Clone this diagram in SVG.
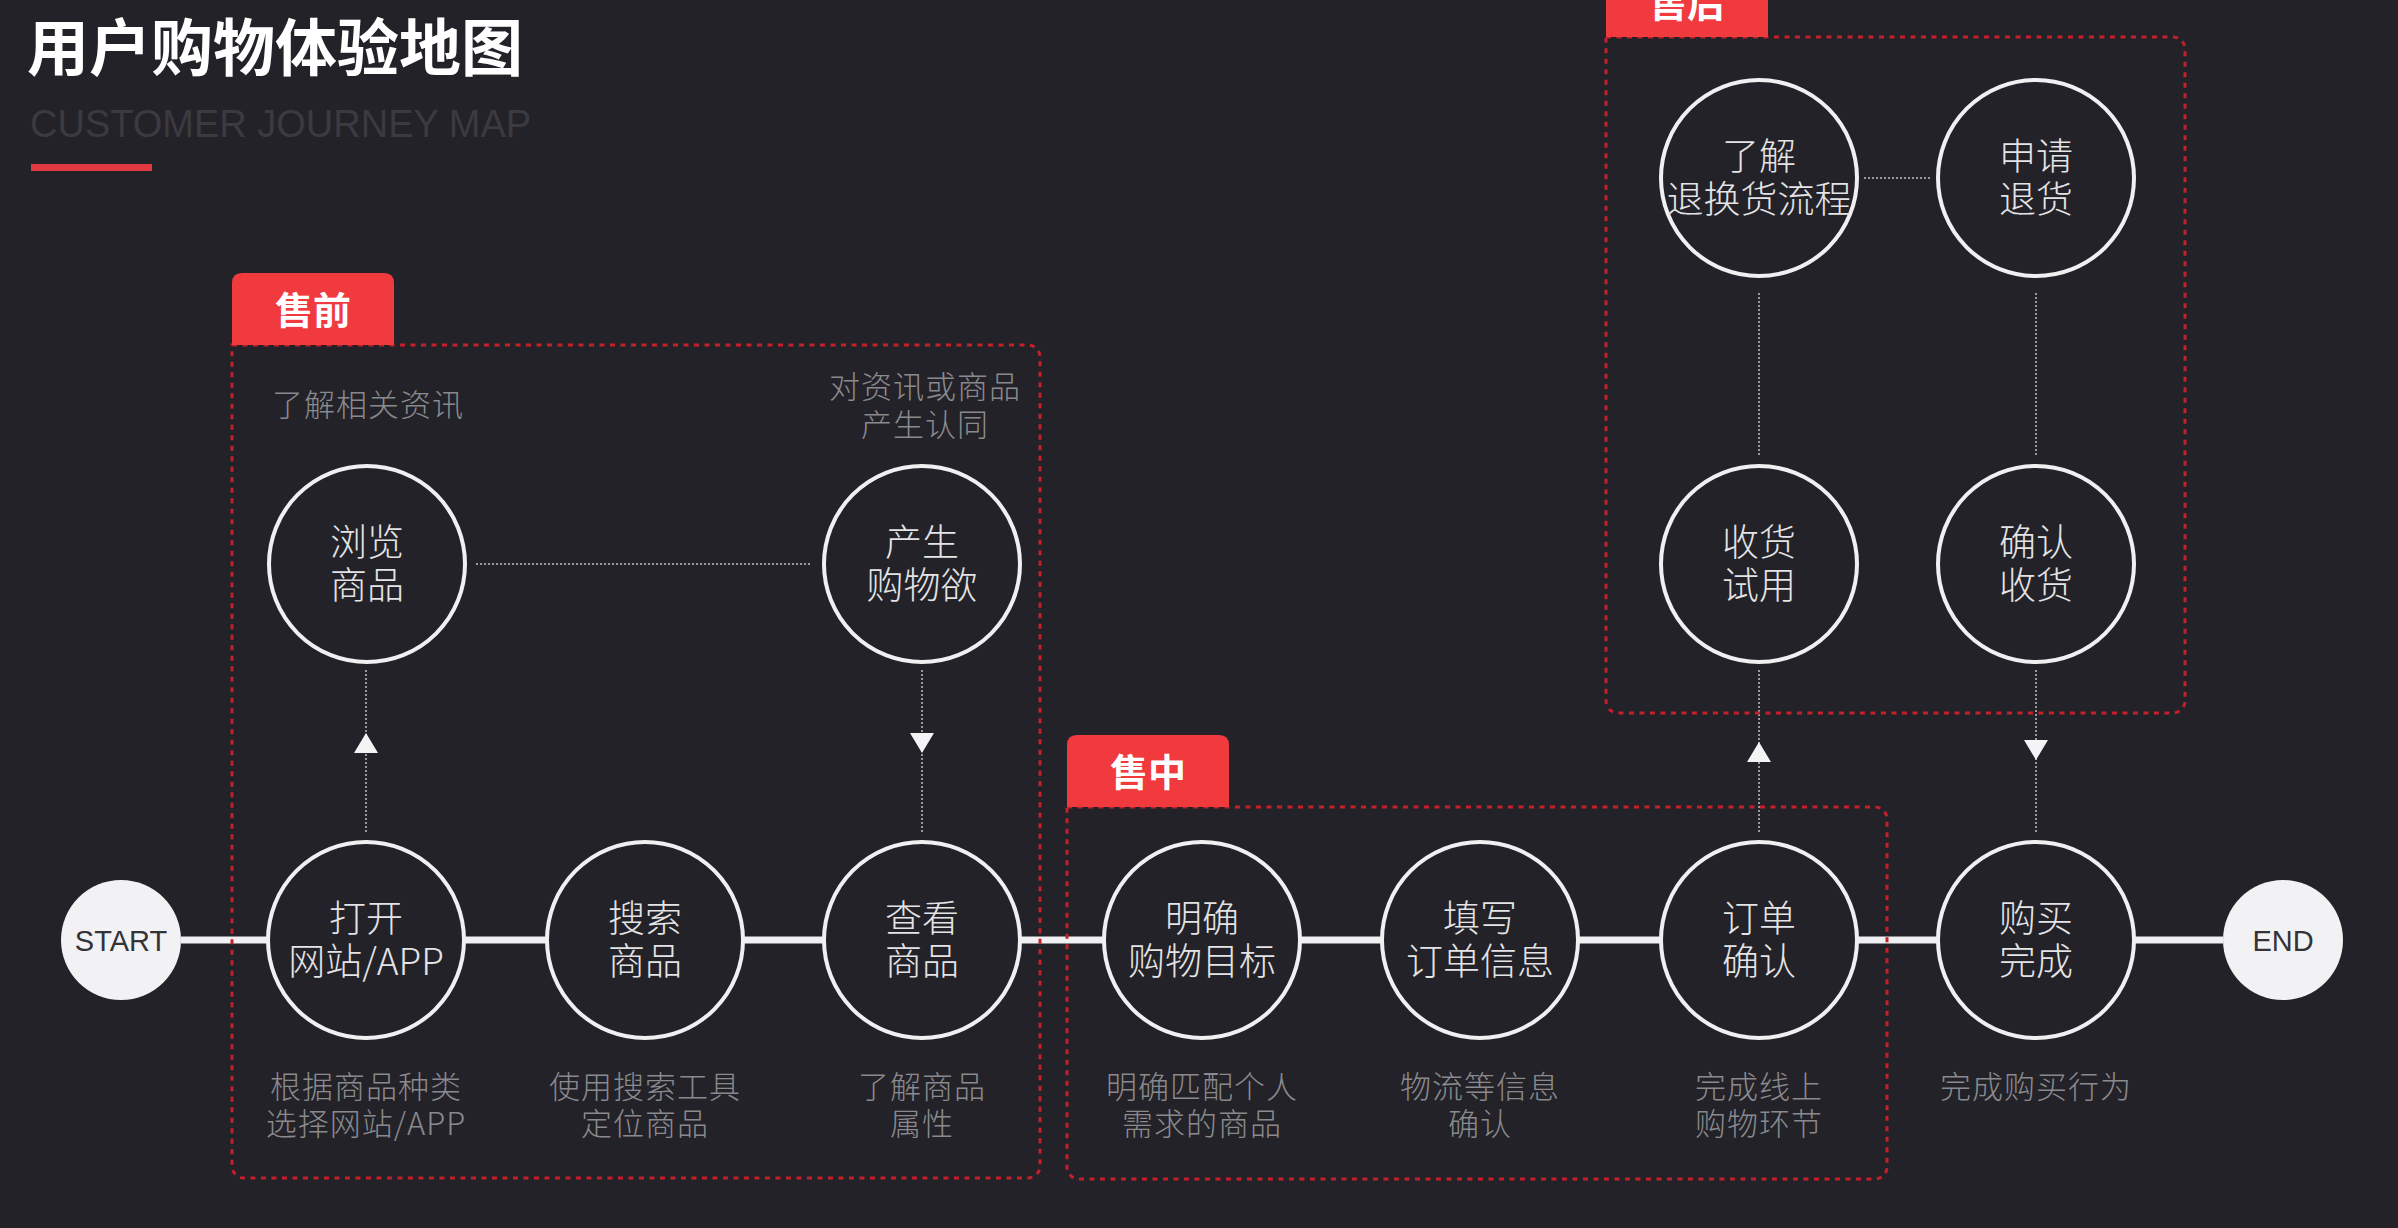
<svg xmlns="http://www.w3.org/2000/svg" width="2398" height="1228" viewBox="0 0 2398 1228">
<defs>
<style>
.bg{fill:#232228}
.node{fill:#232228;stroke:#f0f0f2;stroke-width:4}
.term{fill:#f2f2f4}
.lbl{font-family:"Noto Sans CJK SC",sans-serif;font-size:37px;fill:#e4e4e6;text-anchor:middle;font-weight:300}
.desc{font-family:"Noto Sans CJK SC",sans-serif;font-size:31px;fill:#8a8a8e;text-anchor:middle;font-weight:300;letter-spacing:1px}
.term-t{font-family:"Liberation Sans",Arial,sans-serif;font-size:29px;fill:#333338;text-anchor:middle}
.box{fill:none;stroke:#c4202b;stroke-width:3;stroke-dasharray:5 5.5}
.tag{fill:#f03a3e}
.tag-t{font-family:"Noto Sans CJK SC",sans-serif;font-size:38px;font-weight:bold;fill:#ffffff;text-anchor:middle}
.dot{fill:none;stroke:#9a9a9e;stroke-width:2;stroke-dasharray:2 2}
.main{stroke:#f0f0f2;stroke-width:7}
.arr{fill:#f4f4f6}
</style>
</defs>
<rect class="bg" x="0" y="0" width="2398" height="1228"/>

<g id="title">
<text x="27" y="71" style="font-family:'Noto Sans CJK SC',sans-serif;font-size:62px;font-weight:bold;fill:#ffffff">用户购物体验地图</text>
<text x="30" y="137" style="font-family:'Liberation Sans',Arial,sans-serif;font-size:38px;fill:#3b3a41">CUSTOMER JOURNEY MAP</text>
<rect x="31" y="164" width="121" height="7" fill="#e0393f"/>
</g>

<g id="connectors">
<line class="main" x1="181" y1="940" x2="2223" y2="940"/>
<line class="dot" x1="476" y1="564" x2="810" y2="564"/>
<line class="dot" x1="1864" y1="178" x2="1930" y2="178"/>
<line class="dot" x1="1759" y1="293" x2="1759" y2="455"/>
<line class="dot" x1="2036" y1="293" x2="2036" y2="455"/>
<line class="dot" x1="366" y1="670" x2="366" y2="832"/>
<polygon class="arr" points="366,733 354,753 378,753"/>
<line class="dot" x1="922" y1="670" x2="922" y2="832"/>
<polygon class="arr" points="922,753 910,733 934,733"/>
<line class="dot" x1="1759" y1="670" x2="1759" y2="832"/>
<polygon class="arr" points="1759,742 1747,762 1771,762"/>
<line class="dot" x1="2036" y1="670" x2="2036" y2="832"/>
<polygon class="arr" points="2036,760 2024,740 2048,740"/>
</g>

<g id="stage-presale">
<path class="box" d="M232,345 H1028 A12,12 0 0 1 1040,357 V1166 A12,12 0 0 1 1028,1178 H244 A12,12 0 0 1 232,1166 Z"/>
<path class="tag" d="M232,345 V283 Q232,273 242,273 H384 Q394,273 394,283 V345 Z"/>
<text class="tag-t" x="313" y="324">售前</text>
<text class="desc" x="368" y="416">了解相关资讯</text>
<text class="desc" x="925" y="398"><tspan x="925">对资讯或商品</tspan><tspan x="925" dy="38">产生认同</tspan></text>
</g>

<g id="stage-insale">
<path class="box" d="M1067,807 H1875 A12,12 0 0 1 1887,819 V1167 A12,12 0 0 1 1875,1179 H1079 A12,12 0 0 1 1067,1167 Z"/>
<path class="tag" d="M1067,807 V745 Q1067,735 1077,735 H1219 Q1229,735 1229,745 V807 Z"/>
<text class="tag-t" x="1148" y="786">售中</text>
</g>

<g id="stage-aftersale">
<path class="box" d="M1606,37 H2173 A12,12 0 0 1 2185,49 V701 A12,12 0 0 1 2173,713 H1618 A12,12 0 0 1 1606,701 Z"/>
<path class="tag" d="M1606,37 V-25 Q1606,-35 1616,-35 H1758 Q1768,-35 1768,-25 V37 Z"/>
<text class="tag-t" x="1687" y="17">售后</text>
</g>

<g id="start">
<circle class="term" cx="121" cy="940" r="60"/>
<text class="term-t" x="121" y="951">START</text>
</g>
<g id="end">
<circle class="term" cx="2283" cy="940" r="60"/>
<text class="term-t" x="2283" y="951">END</text>
</g>

<g id="open-site">
<circle class="node" cx="366" cy="940" r="98"/>
<text class="lbl" x="366" y="932"><tspan x="366">打开</tspan><tspan x="366" dy="43">网站/APP</tspan></text>
<text class="desc" x="366" y="1098"><tspan x="366">根据商品种类</tspan><tspan x="366" dy="37">选择网站/APP</tspan></text>
</g>
<g id="search">
<circle class="node" cx="645" cy="940" r="98"/>
<text class="lbl" x="645" y="932"><tspan x="645">搜索</tspan><tspan x="645" dy="43">商品</tspan></text>
<text class="desc" x="645" y="1098"><tspan x="645">使用搜索工具</tspan><tspan x="645" dy="37">定位商品</tspan></text>
</g>
<g id="view">
<circle class="node" cx="922" cy="940" r="98"/>
<text class="lbl" x="922" y="932"><tspan x="922">查看</tspan><tspan x="922" dy="43">商品</tspan></text>
<text class="desc" x="922" y="1098"><tspan x="922">了解商品</tspan><tspan x="922" dy="37">属性</tspan></text>
</g>
<g id="target">
<circle class="node" cx="1202" cy="940" r="98"/>
<text class="lbl" x="1202" y="932"><tspan x="1202">明确</tspan><tspan x="1202" dy="43">购物目标</tspan></text>
<text class="desc" x="1202" y="1098"><tspan x="1202">明确匹配个人</tspan><tspan x="1202" dy="37">需求的商品</tspan></text>
</g>
<g id="fill-order">
<circle class="node" cx="1480" cy="940" r="98"/>
<text class="lbl" x="1480" y="932"><tspan x="1480">填写</tspan><tspan x="1480" dy="43">订单信息</tspan></text>
<text class="desc" x="1480" y="1098"><tspan x="1480">物流等信息</tspan><tspan x="1480" dy="37">确认</tspan></text>
</g>
<g id="confirm-order">
<circle class="node" cx="1759" cy="940" r="98"/>
<text class="lbl" x="1759" y="932"><tspan x="1759">订单</tspan><tspan x="1759" dy="43">确认</tspan></text>
<text class="desc" x="1759" y="1098"><tspan x="1759">完成线上</tspan><tspan x="1759" dy="37">购物环节</tspan></text>
</g>
<g id="done">
<circle class="node" cx="2036" cy="940" r="98"/>
<text class="lbl" x="2036" y="932"><tspan x="2036">购买</tspan><tspan x="2036" dy="43">完成</tspan></text>
<text class="desc" x="2036" y="1098">完成购买行为</text>
</g>

<g id="browse">
<circle class="node" cx="367" cy="564" r="98"/>
<text class="lbl" x="367" y="556"><tspan x="367">浏览</tspan><tspan x="367" dy="43">商品</tspan></text>
</g>
<g id="desire">
<circle class="node" cx="922" cy="564" r="98"/>
<text class="lbl" x="922" y="556"><tspan x="922">产生</tspan><tspan x="922" dy="43">购物欲</tspan></text>
</g>
<g id="learn-return">
<circle class="node" cx="1759" cy="178" r="98"/>
<text class="lbl" x="1759" y="170"><tspan x="1759">了解</tspan><tspan x="1759" dy="43">退换货流程</tspan></text>
</g>
<g id="apply-return">
<circle class="node" cx="2036" cy="178" r="98"/>
<text class="lbl" x="2036" y="170"><tspan x="2036">申请</tspan><tspan x="2036" dy="43">退货</tspan></text>
</g>
<g id="receive">
<circle class="node" cx="1759" cy="564" r="98"/>
<text class="lbl" x="1759" y="556"><tspan x="1759">收货</tspan><tspan x="1759" dy="43">试用</tspan></text>
</g>
<g id="confirm-receipt">
<circle class="node" cx="2036" cy="564" r="98"/>
<text class="lbl" x="2036" y="556"><tspan x="2036">确认</tspan><tspan x="2036" dy="43">收货</tspan></text>
</g>
</svg>
